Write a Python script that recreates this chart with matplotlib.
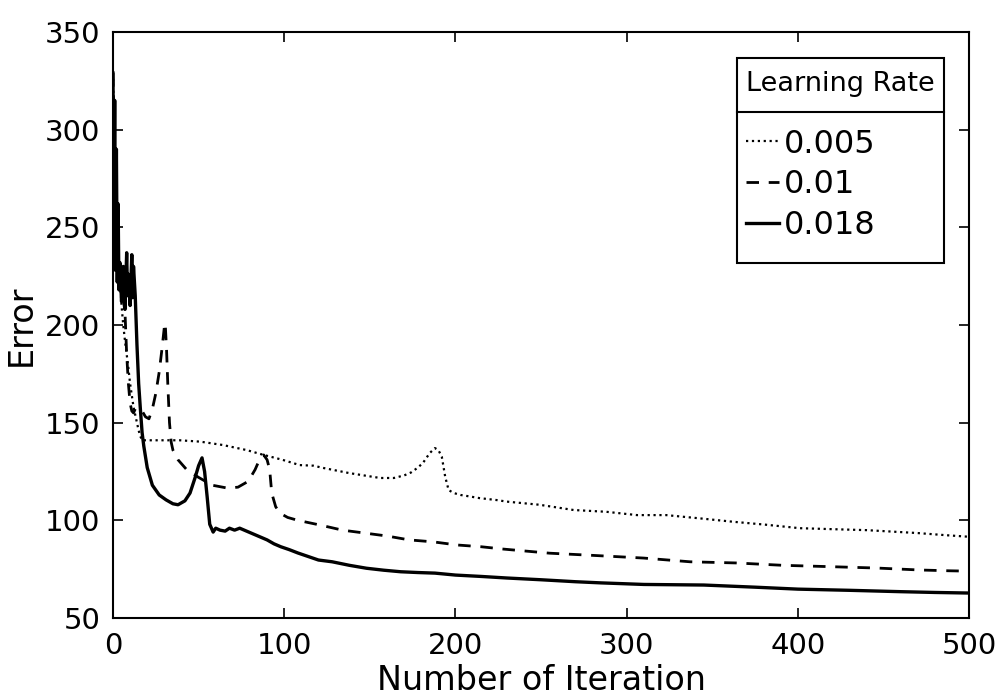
from matplotlib import pyplot as plt
from matplotlib.patches import Rectangle

# learning rate 0.018
iterA = [0, 0.5, 1, 1.5, 2, 2.5, 3, 3.5, 4, 5, 6, 7, 8, 8.5, 9, 10, 11, 11.5, 12, 13, 14, 15, 16, 17, 18,
         20, 23, 27, 31, 35, 38, 42, 45, 48, 50, 52, 53.5, 55, 56.5, 58.5, 60, 62.5, 65.5, 68, 71, 74, 78,
         82, 86, 90, 94, 98, 103, 108, 114, 120, 128, 138, 148, 158, 168, 178, 188, 200, 215, 230, 250,
         270, 285, 310, 345, 375, 400, 430, 460, 480, 500]
errA = [329, 250, 315, 228, 290, 222, 262, 218, 232, 212, 230, 208, 237, 215, 226, 210, 236, 214, 230, 215,
        190, 170, 157, 145, 138, 127, 118, 113, 110.5, 108.5, 108, 110, 114, 122, 128, 132, 125, 112, 98,
        94, 96, 95, 94.5, 96, 95, 96, 94.5, 93, 91.5, 90, 88, 86.5, 85, 83.3, 81.5, 79.7, 78.8, 77, 75.5,
        74.5, 73.7, 73.3, 73, 72, 71.3, 70.5, 69.6, 68.6, 68, 67.2, 66.9, 65.8, 64.8, 64.2, 63.5, 63.1, 62.8]

# learning rate 0.01
iterB = [0, 1, 2, 3, 4, 5, 6, 7, 8, 9, 10, 11, 12, 13, 15, 17, 19, 21, 23, 25, 27, 28.5, 30, 30.5, 31.3,
         32, 33, 34, 35, 38, 43, 50, 58, 67, 73, 79, 83, 86, 88, 90, 91.5, 92.7, 95, 97.5, 102, 108, 121,
         134, 147, 160, 173, 187, 201, 215, 228, 255, 282, 310, 337, 364, 391, 419, 446, 471, 488, 500]
errB = [329, 280, 245, 228, 225, 220, 213, 207, 185, 170, 160, 156, 155, 157, 157.5, 156, 153, 152, 157,
        165, 176, 187, 199, 201, 187, 170, 150, 140, 136, 131, 126, 122, 118, 116.5, 117, 120, 126, 132,
        133.5, 131, 126, 114, 107, 103.7, 101.5, 100, 97.6, 95, 93.5, 92, 90, 89, 87.4, 86.5, 85.3, 83.2,
        82, 80.7, 78.8, 78.2, 77, 76.3, 75.6, 74.6, 74.2, 74]

# learning rate 0.005
iterC = [0, 1, 2, 3, 4, 5, 6, 7, 8, 9, 10, 11, 12, 13, 14, 15, 16, 17, 20, 28, 39, 51, 64, 78, 88, 99,
         109, 117, 123, 138, 156, 164, 170, 174, 178, 181, 185, 188, 190, 192, 194, 196, 199, 203, 210,
         214, 224, 230, 249, 269, 288, 306, 323, 343, 362, 381, 401, 420, 440, 470, 485, 500]
errC = [329, 285, 255, 235, 225, 210, 200, 192, 185, 178, 170, 164, 158, 154, 150, 146, 143, 141, 141,
        141, 141, 140.3, 138.6, 136, 133.5, 131, 128.3, 128, 126.8, 124.2, 121.7, 121.7, 123, 124.5, 127,
        129.4, 134.5, 137, 136, 132.6, 122.3, 115.5, 114, 113, 112, 111.4, 110.4, 109.6, 108, 105.3,
        104.4, 102.7, 102.7, 101, 99.3, 97.8, 96, 95.5, 95, 93.5, 92.5, 91.6]

xticks = [0, 100, 200, 300, 400, 500]
yticks = [50, 100, 150, 200, 250, 300, 350]

plt.rcParams['font.family'] = 'DejaVu Sans'

fig = plt.figure(figsize=(9.98, 6.96), dpi=100)
ax = fig.add_axes([0.1132, 0.112, 0.858, 0.842])

ax.plot(iterC, errC, linestyle=':', color='black', linewidth=1.6, label='0.005')
ax.plot(iterB, errB, linestyle='--', color='black', linewidth=2.0, dashes=(4.5, 3.5), label='0.01')
ax.plot(iterA, errA, linestyle='-', color='black', linewidth=2.4, label='0.018')

ax.set_xlim(0, 500)
ax.set_ylim(50, 350)
ax.set_xticks(xticks)
ax.set_yticks(yticks)
ax.tick_params(direction='in', length=7, width=1.2, top=True, right=True, labelsize=21)
ax.tick_params(axis='x', pad=10)
ax.tick_params(axis='y', pad=9)
for s in ax.spines.values():
    s.set_linewidth(1.5)
ax.set_xlabel('Number of Iteration', fontsize=24, labelpad=3)
ax.set_ylabel('Error', fontsize=24, labelpad=5)

# legend box with a separate title cell
box_x0, box_x1 = 0.729, 0.970
box_y0, box_y1 = 0.606, 0.956
sep_y = 0.8635
ax.add_patch(Rectangle((box_x0, box_y0), box_x1 - box_x0, box_y1 - box_y0, transform=ax.transAxes,
                       facecolor='white', edgecolor='black', linewidth=1.5, zorder=4))
ax.plot([box_x0, box_x1], [sep_y, sep_y], transform=ax.transAxes, color='black', linewidth=1.5,
        zorder=4.5)

leg = ax.legend(title='Learning Rate', loc='upper left', bbox_to_anchor=(0.7243, box_y1),
                frameon=False, fontsize=23, title_fontsize=19.5, handlelength=1.05,
                handletextpad=0.15, borderaxespad=0, labelspacing=0.3, borderpad=0.4)
leg.set_zorder(5)
leg._legend_box.align = 'left'
leg._legend_box.sep = 23

plt.savefig('out.png', dpi=100)
